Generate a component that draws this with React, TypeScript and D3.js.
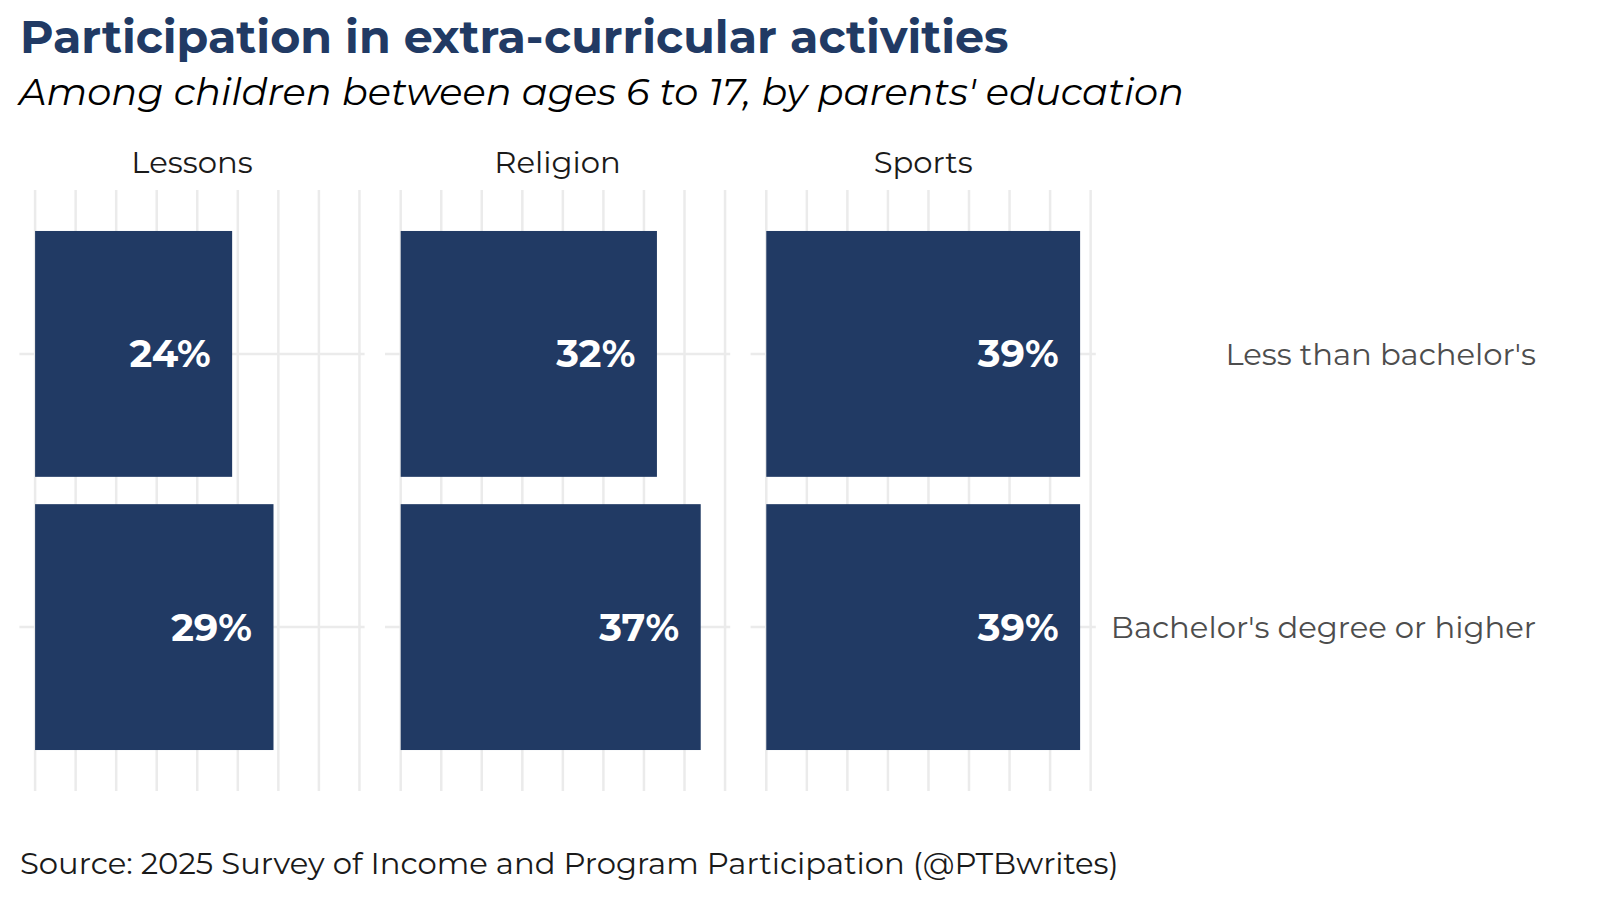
import React from "react";
import * as d3 from "d3";

const activities = ["Lessons", "Religion", "Sports"];
const education = ["Less than bachelor's", "Bachelor's degree or higher"];
const lessThanBachelors = [24.3, 31.6, 38.7];
const bachelorsOrHigher = [29.4, 37.0, 38.7];
const gridStep = 5;

const titleText = "Participation in extra-curricular activities";
const subtitleText = "Among children between ages 6 to 17, by parents' education";
const captionText = "Source: 2025 Survey of Income and Program Participation (@PTBwrites)";

const W = 1600;
const H = 900;
const FONT = "Montserrat, 'DejaVu Sans', sans-serif";
const NAVY = "#213a64";
const GRID = "#ebebeb";

export default function App() {
  const series = [lessThanBachelors, bachelorsOrHigher];
  const maxV = d3.max(series.flat()) as number;
  const exp = maxV * 0.05;

  const panelLeft0 = 19.4;
  const panelW = 345.2;
  const panelGap = 20.4;
  const panelTop = 190;
  const panelBottom = 791;

  const x = d3.scaleLinear().domain([-exp, maxV + exp]).range([0, panelW]);
  const y = d3
    .scaleBand<string>()
    .domain(education)
    .range([panelTop, panelBottom])
    .paddingInner(0.1)
    .paddingOuter(0.15);

  const ticks = d3.range(0, maxV + exp, gridStep);
  const labelSize = 38.4;
  const baseSize = 30.7;

  return (
    <svg
      width={W}
      height={H}
      viewBox={`0 0 ${W} ${H}`}
      style={{ position: "fixed", left: 0, top: 0, background: "#fff" }}
      fontFamily={FONT}
    >
      <rect x={0} y={0} width={W} height={H} fill="#fff" />
      <text x={20} y={53} fontSize={46} fontWeight="bold" fill={NAVY}>
        {titleText}
      </text>
      <text x={19} y={105} fontSize={38.4} fontStyle="italic" fill="#000">
        {subtitleText}
      </text>

      {activities.map((act, i) => {
        const left = panelLeft0 + i * (panelW + panelGap);
        return (
          <g key={act} transform={`translate(${left},0)`}>
            <text
              x={panelW / 2}
              y={173}
              fontSize={baseSize}
              textAnchor="middle"
              fill="#1a1a1a"
            >
              {act}
            </text>
            {ticks.map((t) => (
              <line
                key={t}
                x1={x(t)}
                x2={x(t)}
                y1={panelTop}
                y2={panelBottom}
                stroke={GRID}
                strokeWidth={2.5}
              />
            ))}
            {education.map((ed) => (
              <line
                key={ed}
                x1={0}
                x2={panelW}
                y1={(y(ed) as number) + y.bandwidth() / 2}
                y2={(y(ed) as number) + y.bandwidth() / 2}
                stroke={GRID}
                strokeWidth={2.5}
              />
            ))}
            {education.map((ed, j) => {
              const v = series[j][i];
              const yc = (y(ed) as number) + y.bandwidth() / 2;
              return (
                <g key={ed}>
                  <rect
                    x={x(0)}
                    y={y(ed) as number}
                    width={x(v) - x(0)}
                    height={y.bandwidth()}
                    fill={NAVY}
                  />
                  <text
                    x={x(v) - 21.5}
                    y={yc + labelSize * 0.35}
                    fontSize={labelSize}
                    fontWeight="bold"
                    fill="#fff"
                    textAnchor="end"
                  >
                    {`${Math.round(v)}%`}
                  </text>
                </g>
              );
            })}
          </g>
        );
      })}

      {education.map((ed) => (
        <text
          key={ed}
          x={1536}
          y={(y(ed) as number) + y.bandwidth() / 2 + 11}
          fontSize={baseSize}
          textAnchor="end"
          fill="#4d4d4d"
        >
          {ed}
        </text>
      ))}

      <text x={20} y={874} fontSize={baseSize} fill="#1a1a1a">
        {captionText}
      </text>
    </svg>
  );
}
